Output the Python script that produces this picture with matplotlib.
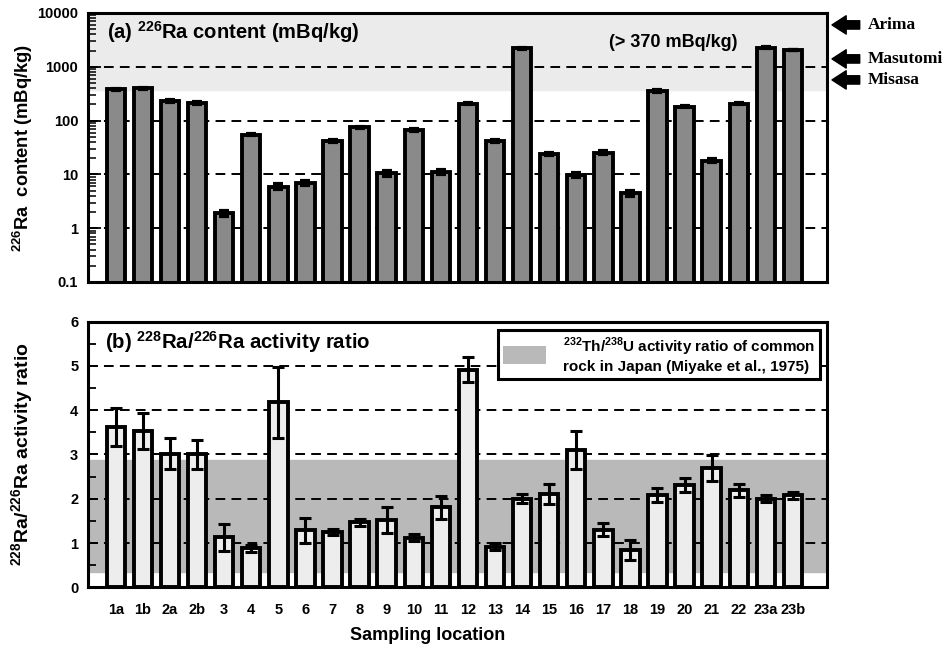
import matplotlib
matplotlib.use('Agg')
import matplotlib.pyplot as plt
import matplotlib.transforms as mtransforms
from matplotlib.patches import Patch
from matplotlib.ticker import LogLocator, NullFormatter, MultipleLocator

##### Data ###########################################################
locations = ['1a', '1b', '2a', '2b', '3', '4', '5', '6', '7', '8', '9', '10', '11',
             '12', '13', '14', '15', '16', '17', '18', '19', '20', '21', '22', '23a', '23b']
ra226 = [380, 395, 231, 212, 1.9, 55, 5.9, 6.9, 42, 75, 10.5, 67, 11.3,
         206, 42, 2200, 23.5, 9.8, 25.3, 4.5, 355, 181, 18, 206, 2265, 2050]
ra226_err = [10, 10, 6, 6, 0.2, 1.5, 0.6, 0.6, 1.5, 2.5, 1.2, 2, 1.0,
             5, 1.5, 40, 1, 0.8, 1.5, 0.5, 10, 5, 1.2, 5, 40, 40]
ratio = [3.62, 3.53, 3.02, 3.00, 1.13, 0.88, 4.18, 1.29, 1.24, 1.47, 1.52, 1.12, 1.81,
         4.92, 0.92, 2.00, 2.11, 3.10, 1.30, 0.84, 2.08, 2.32, 2.69, 2.19, 2.00, 2.08]
ratio_err = [0.42, 0.40, 0.35, 0.33, 0.30, 0.08, 0.80, 0.28, 0.07, 0.08, 0.30, 0.08, 0.26,
             0.28, 0.08, 0.10, 0.23, 0.42, 0.15, 0.22, 0.16, 0.16, 0.29, 0.15, 0.08, 0.08]
hot_springs = ['Arima', 'Masutomi', 'Misasa']
hot_spring_ra = [6000, 1400, 570]
high_level = 370            # shaded region in (a), > 370 mBq/kg
rock_band = (0.35, 2.88)    # 232Th/238U ratio of common rock in Japan

##### Fonts ##########################################################
plt.rcParams.update({
    'font.family': 'Liberation Sans',
    'font.weight': 'bold',
    'mathtext.fontset': 'custom',
    'mathtext.rm': 'Liberation Sans',
    'mathtext.bf': 'Liberation Sans:bold',
    'axes.linewidth': 2.2,
})

fig = plt.figure(figsize=(9.53, 6.46), dpi=100)
ax1 = fig.add_axes([0.0923, 0.5635, 0.7755, 0.4164])
ax2 = fig.add_axes([0.0923, 0.0909, 0.7755, 0.4111])

x = list(range(len(locations)))
bar_w = 0.68
dash = (0, (5, 3.2))

##### (a) 226Ra content ##############################################
ax1.set_yscale('log')
ax1.set_ylim(0.1, 10000)
ax1.set_xlim(-1.03, 26.26)
ax1.axhspan(high_level, 10000, color='#ebebeb', zorder=0)
for v in [1, 10, 100, 1000]:
    ax1.axhline(v, color='black', lw=1.4, ls=dash, zorder=0.5)
ax1.bar(x, ra226, width=bar_w, color='#8a8a8a', edgecolor='black', linewidth=2.8, zorder=2)
ax1.errorbar(x, ra226, yerr=ra226_err, fmt='none', ecolor='black',
             elinewidth=2.2, capsize=3.8, capthick=3, zorder=3)
ax1.set_xticks([])
ax1.yaxis.set_minor_locator(LogLocator(base=10, subs=range(2, 10), numticks=20))
ax1.yaxis.set_minor_formatter(NullFormatter())
ax1.set_yticks([0.1, 1, 10, 100, 1000, 10000])
ax1.set_yticklabels(['0.1', '1', '10', '100', '1000', '10000'])
ax1.tick_params(axis='y', which='major', direction='in', length=9, width=1.3,
                labelsize=10.5, pad=7)
ax1.tick_params(axis='y', which='minor', direction='in', length=6, width=1.1)
ax1.set_ylabel(r'$^{\mathbf{226}}$Ra  content (mBq/kg)', fontsize=13.2, fontweight='bold')
ax1.yaxis.set_label_coords(-0.072, 0.5)
ax1.text(0.026, 0.929, r'(a) $^{\mathbf{226}}$Ra content (mBq/kg)', transform=ax1.transAxes,
         fontsize=14.5, fontweight='bold', va='center', ha='left')
ax1.text(0.792, 0.892, '(> 370 mBq/kg)', transform=ax1.transAxes,
         fontsize=13, fontweight='bold', va='center', ha='center')

# hot spring arrows on the right edge
trans = mtransforms.blended_transform_factory(ax1.transAxes, ax1.transData)
for name, val in zip(hot_springs, hot_spring_ra):
    ax1.annotate('', xy=(1.003, val), xycoords=trans, xytext=(1.048, val), textcoords=trans,
                 arrowprops=dict(arrowstyle='simple,head_width=1.1,head_length=0.85,tail_width=0.5',
                                 color='black', mutation_scale=12), annotation_clip=False)
    ax1.text(1.055, val, name, transform=trans, fontsize=12.5, fontweight='bold',
             family='Liberation Serif', va='center', ha='left')

##### (b) 228Ra/226Ra activity ratio #################################
ax2.set_ylim(0, 6)
ax2.set_xlim(-1.03, 26.26)
ax2.axhspan(rock_band[0], rock_band[1], color='#b9b9b9', zorder=0)
for v in [1, 2, 3, 4, 5]:
    ax2.axhline(v, color='black', lw=1.4, ls=dash, zorder=0.5)
ax2.bar(x, ratio, width=bar_w, color='#ededed', edgecolor='black', linewidth=2.8, zorder=2)
ax2.errorbar(x, ratio, yerr=ratio_err, fmt='none', ecolor='black',
             elinewidth=2.2, capsize=4, capthick=2.2, zorder=3)
ax2.set_xticks(x)
ax2.set_xticklabels(locations)
ax2.tick_params(axis='x', length=0, pad=11, labelsize=10.5)
ax2.yaxis.set_major_locator(MultipleLocator(1))
ax2.yaxis.set_minor_locator(MultipleLocator(0.5))
ax2.tick_params(axis='y', which='major', direction='in', length=7, width=1.3,
                labelsize=10.5, pad=7)
ax2.tick_params(axis='y', which='minor', direction='in', length=6, width=1.3)
ax2.set_ylabel(r'$^{\mathbf{228}}$Ra/$^{\mathbf{226}}$Ra activity ratio', fontsize=14,
               fontweight='bold')
ax2.yaxis.set_label_coords(-0.07, 0.5)
ax2.set_xlabel('Sampling location', fontsize=13, fontweight='bold')
ax2.xaxis.set_label_coords(0.46, -0.15)
ax2.text(0.023, 0.925, r'(b) $^{\mathbf{228}}$Ra/$^{\mathbf{226}}$Ra activity ratio',
         transform=ax2.transAxes, fontsize=14.7, fontweight='bold', va='center', ha='left')

leg = ax2.legend(handles=[Patch(facecolor='#b9b9b9', edgecolor='none')],
                 labels=[r'$^{\mathbf{232}}$Th/$^{\mathbf{238}}$U activity ratio of common'
                         '\nrock in Japan (Miyake et al., 1975)'],
                 loc='upper right', bbox_to_anchor=(0.995, 0.98), fancybox=False,
                 framealpha=1, edgecolor='black', prop={'size': 11, 'weight': 'bold'},
                 handlelength=2.8, handleheight=1.5, borderpad=0.35, handletextpad=1.1,
                 borderaxespad=0.2)
leg.get_frame().set_linewidth(2.2)
leg.set_zorder(5)

plt.savefig('out.png', dpi=100)
